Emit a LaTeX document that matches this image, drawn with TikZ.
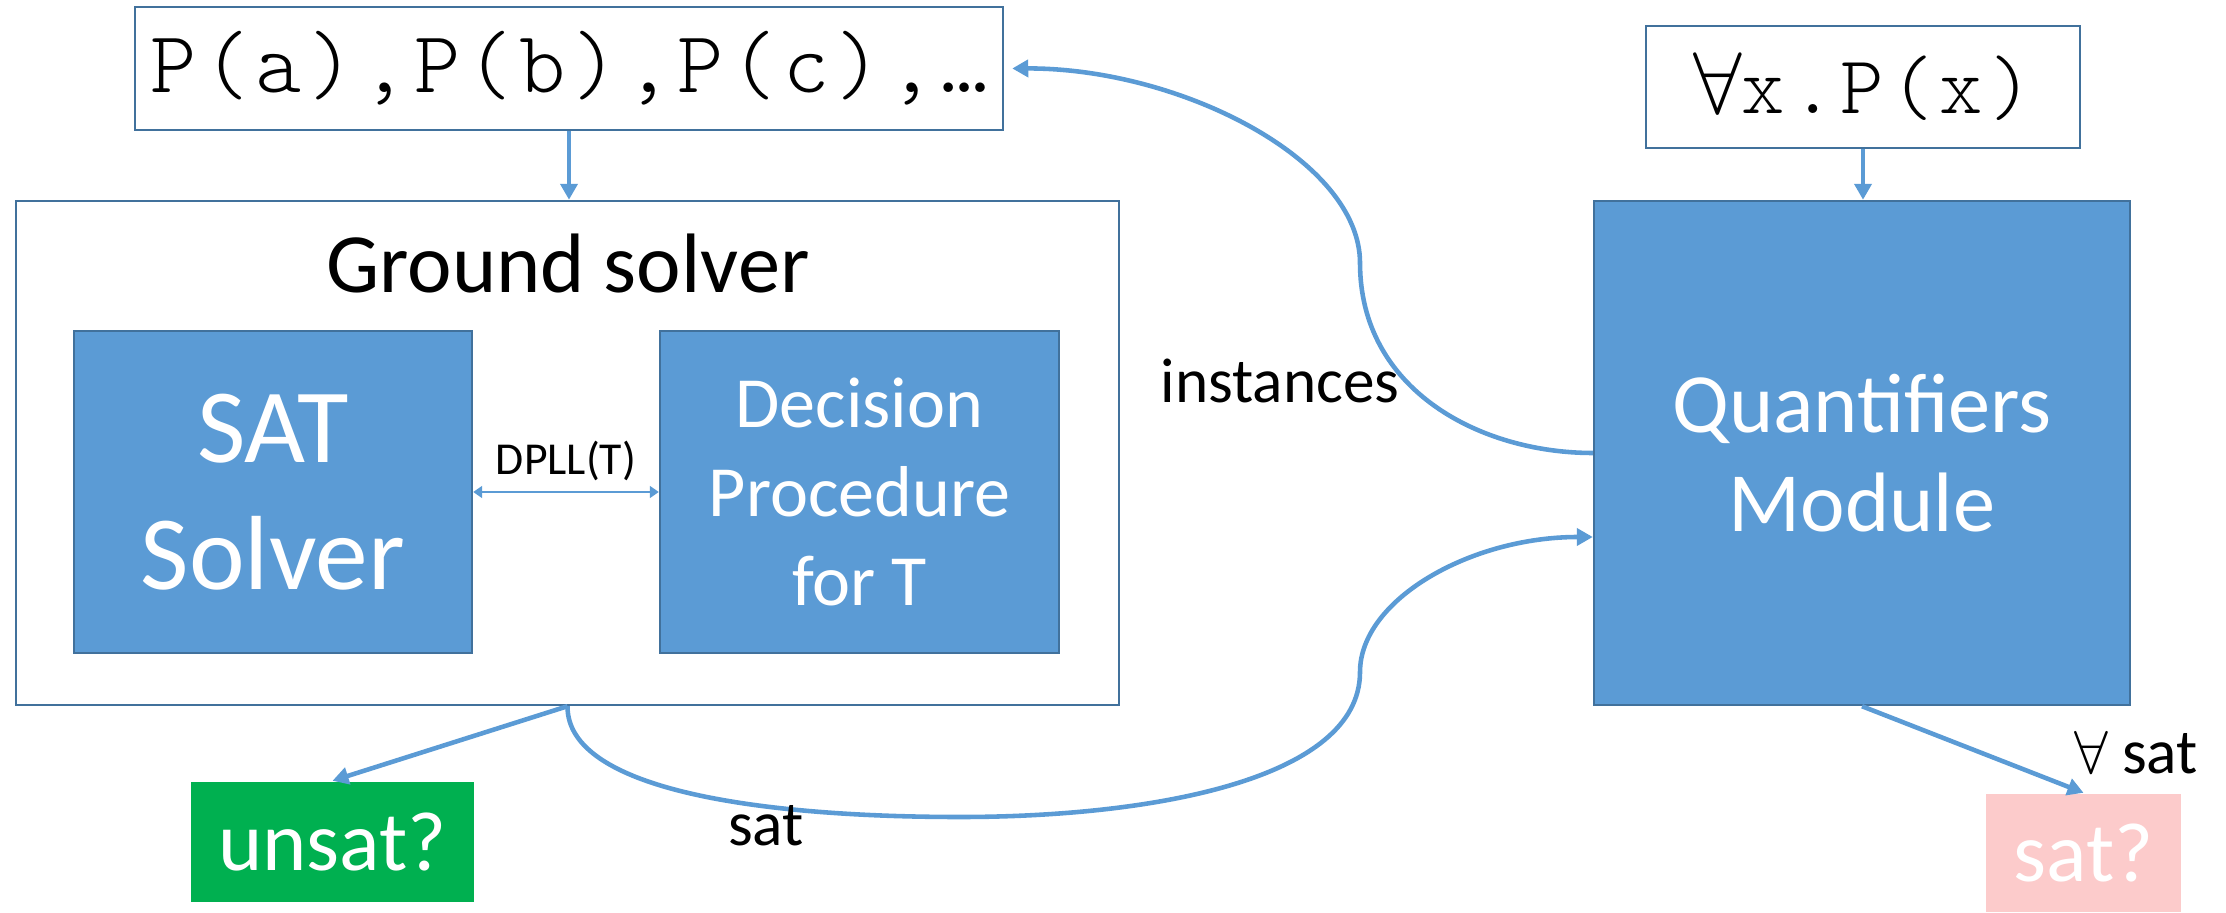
\documentclass[tikz,border=0pt]{standalone}
\usepackage{fontspec}
\setmainfont{Carlito}
\setmonofont{Latin Modern Mono Light}[LetterSpace=7.5]
\usetikzlibrary{arrows.meta,calc}
\definecolor{boxblue}{HTML}{5B9BD5}
\definecolor{ruleblue}{HTML}{41719C}
\definecolor{flowblue}{HTML}{5B9BD5}
\definecolor{boxgreen}{HTML}{00B050}
\definecolor{boxpink}{HTML}{FCCBCB}

\begin{document}
\begin{tikzpicture}[line width=0.7pt,
  every node/.style={inner sep=0pt, align=center},
  plain/.style={draw=ruleblue, fill=white},
  module/.style={draw=ruleblue, fill=boxblue, text=white},
  answer/.style={text=white, minimum height=1.2cm, font=\fontsize{24}{29}\selectfont},
  tag/.style={font=\fontsize{18}{22}\selectfont, anchor=base},
  flow/.style={flowblue, line width=1.3pt, -{Triangle[length=1.6mm,width=1.7mm]}},
  dpll/.style={flowblue, line width=0.5pt,
    {Triangle[length=0.9mm,width=1.2mm]}-{Triangle[length=0.9mm,width=1.2mm]}}]

\useasboundingbox (0,0) rectangle (22.26,9.12);

% ---------------- formulas fed in from the top ----------------------------
\node[plain, minimum width=8.68cm, minimum height=1.23cm,
  font=\ttfamily\fontsize{25}{30}\selectfont] (ground) at (5.69,8.435) {P(a),P(b),P(c),…};
\node[plain, minimum width=4.34cm, minimum height=1.22cm,
  font=\ttfamily\fontsize{23.5}{28}\selectfont] (quant) at (18.63,8.25) {$\forall$x.P(x)};

% ---------------- left: ground solver --------------------------------------
\node[plain, minimum width=11.03cm, minimum height=5.04cm] (gs) at (5.675,4.59) {};
\node[font=\fontsize{24}{29}\selectfont, anchor=base] (gstitle) at (5.68,6.19) {Ground solver};
\node[module, minimum width=3.98cm, minimum height=3.22cm,
  font=\fontsize{30}{36}\selectfont] (sat) at (2.73,4.20) {SAT\\Solver};
\node[module, minimum width=3.99cm, minimum height=3.22cm,
  font=\fontsize{20.5}{25.3}\selectfont] (dp) at (8.595,4.20) {Decision\\Procedure\\for T};
\draw[dpll] (sat.east) -- node[above=3pt, text=black, font=\fontsize{13}{16}\selectfont] (dpllT) {DPLL(T)} (dp.west);

% ---------------- right: quantifier instantiation --------------------------
\node[module, minimum width=5.36cm, minimum height=5.04cm,
  font=\fontsize{24}{28.2}\selectfont] (qm) at (18.62,4.59) {Quantifiers\\Module};

% ---------------- results --------------------------------------------------
\node[answer, fill=boxgreen, minimum width=2.83cm] (unsat) at (3.325,0.70) {unsat?};
\node[answer, fill=boxpink, minimum width=1.95cm, minimum height=1.18cm] (satq) at (20.835,0.59) {sat?};

% ---------------- arrows ---------------------------------------------------
\draw[flow] (ground.south) -- (ground.south |- gs.north);
\draw[flow] (quant.south) -- (quant.south |- qm.north);
\draw[flow] (gs.south) -- (unsat.north);
\draw[flow] (qm.south) -- (satq.north);

\coordinate (upbend) at (13.6,6.49);
\draw[flow, shorten >=0.08cm] (qm.west) .. controls (14.8,4.59) and (13.6,5.22) .. (upbend)
  .. controls (13.6,7.52) and (11.8,8.44) .. (ground.east);
\node[tag] (instlabel) at (12.80,5.09) {instances};

\coordinate (lowdip) at (9.6,0.95);
\coordinate (lowbend) at (13.6,2.40);
\draw[flow] (gs.south) .. controls (5.67,1.22) and (7.6,0.95) .. (lowdip)
  .. controls (11.5,0.95) and (13.6,1.32) .. (lowbend)
  .. controls (13.6,3.12) and (14.7,3.75) .. ($(qm.west)+(0,-0.84)$);
\node[tag] (satlabel) at (7.66,0.67) {sat};
\node[tag] (allsat) at (21.36,1.39) {$\forall$ sat};

\end{tikzpicture}
\end{document}
